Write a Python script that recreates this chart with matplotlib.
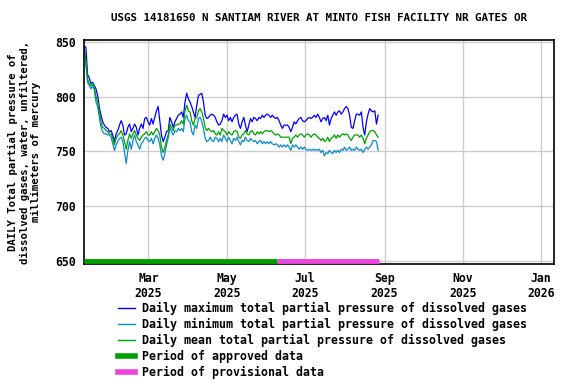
import pandas as pd
import numpy as np
import matplotlib
matplotlib.use("Agg")
import matplotlib.pyplot as plt
import matplotlib.dates as mdates
from matplotlib.lines import Line2D

# Dados (mmHg), aprox. um ponto a cada ~1,3 dias
inicio = "2025-01-10"
fim = "2025-08-27"

valor_max = [846, 845, 820, 817, 812, 813, 810, 807, 801, 790, 783, 777, 774, 772, 771, 768,
             769, 765, 759, 766, 769, 774, 778, 774, 765, 766, 772, 775, 768, 771, 775, 772,
             765, 771, 775, 771, 780, 781, 777, 774, 780, 775, 781, 787, 791, 778, 765, 759,
             763, 768, 769, 781, 777, 772, 777, 780, 783, 784, 786, 781, 795, 803, 798, 795,
             791, 786, 781, 792, 801, 802, 803, 795, 783, 780, 781, 783, 784, 783, 781, 777,
             774, 775, 778, 784, 781, 783, 778, 781, 777, 781, 783, 784, 775, 771, 777, 781,
             774, 768, 774, 780, 777, 781, 780, 778, 781, 780, 783, 781, 783, 784, 783, 781,
             783, 781, 780, 781, 778, 774, 771, 774, 774, 774, 772, 768, 772, 777, 775, 778,
             780, 781, 778, 777, 778, 780, 781, 780, 781, 783, 781, 784, 781, 777, 780, 781,
             778, 783, 774, 780, 783, 786, 783, 786, 787, 784, 786, 789, 791, 789, 783, 772,
             771, 778, 784, 784, 783, 786, 772, 765, 777, 784, 789, 787, 786, 787, 775, 783]

valor_min = [844, 829, 813, 810, 807, 810, 806, 795, 791, 781, 772, 768, 766, 766, 765, 765,
             763, 757, 751, 756, 759, 762, 763, 759, 749, 739, 751, 759, 752, 760, 765, 759,
             756, 752, 757, 759, 762, 763, 760, 759, 762, 757, 762, 765, 762, 756, 746, 742,
             748, 756, 762, 772, 768, 765, 769, 768, 771, 769, 771, 768, 780, 783, 778, 777,
             768, 765, 774, 771, 780, 781, 777, 771, 762, 759, 760, 763, 760, 759, 763, 762,
             759, 762, 759, 765, 762, 759, 763, 760, 757, 762, 760, 763, 759, 756, 760, 759,
             763, 760, 759, 762, 760, 759, 760, 757, 759, 760, 757, 759, 757, 759, 757, 759,
             757, 756, 757, 756, 754, 756, 754, 756, 754, 756, 754, 751, 756, 754, 756, 754,
             752, 754, 752, 754, 752, 751, 752, 751, 752, 751, 752, 751, 752, 749, 751, 746,
             749, 748, 751, 749, 748, 751, 749, 751, 749, 752, 751, 754, 751, 752, 754, 751,
             752, 751, 754, 752, 751, 752, 749, 752, 754, 752, 754, 756, 760, 760, 759, 751]

valor_media = [845, 832, 816, 812, 810, 812, 809, 800, 795, 786, 777, 772, 771, 769, 768, 766,
               766, 762, 756, 762, 765, 766, 769, 765, 759, 752, 760, 766, 762, 766, 769, 765,
               762, 760, 763, 765, 766, 768, 765, 765, 768, 765, 768, 771, 769, 765, 754, 749,
               754, 760, 765, 775, 772, 769, 774, 774, 775, 775, 778, 775, 787, 792, 787, 786,
               778, 774, 780, 781, 787, 789, 786, 780, 772, 769, 771, 769, 768, 769, 766, 765,
               768, 765, 771, 769, 768, 765, 768, 766, 765, 768, 769, 768, 763, 762, 765, 766,
               769, 766, 765, 768, 769, 766, 765, 768, 766, 768, 766, 768, 769, 769, 768, 769,
               768, 766, 765, 766, 765, 763, 763, 763, 763, 763, 763, 757, 762, 763, 765, 763,
               765, 766, 765, 763, 765, 766, 765, 763, 765, 766, 765, 763, 762, 760, 762, 759,
               760, 763, 759, 762, 763, 765, 762, 765, 763, 765, 766, 765, 766, 765, 762, 760,
               763, 765, 765, 765, 763, 765, 762, 757, 762, 765, 768, 769, 769, 768, 765, 763]

# Periodos de aprovacao dos dados
aprovado = ["2025-01-10", "2025-06-09"]
provisorio = ["2025-06-09", "2025-08-28"]

rotulos_legenda = [
    "Daily maximum total partial pressure of dissolved gases",
    "Daily minimum total partial pressure of dissolved gases",
    "Daily mean total partial pressure of dissolved gases",
    "Period of approved data",
    "Period of provisional data",
]

cor_max = "#0000ff"
cor_min = "#0a8ad0"
cor_media = "#00a000"
cor_aprovado = "#00a000"
cor_provisorio = "#ee44dd"

fonte = "DejaVu Sans Mono"
plt.rcParams["font.family"] = fonte
plt.rcParams["font.weight"] = "bold"

fig = plt.figure(figsize=(5.76, 3.84), dpi=100)
ax = fig.add_axes([84 / 576, 1 - 264 / 384, 470 / 576, 224 / 384])

# Uma linha por serie
for valores, cor in [(valor_max, cor_max), (valor_min, cor_min), (valor_media, cor_media)]:
    datas = pd.date_range(inicio, fim, periods=len(valores))
    ax.plot(datas, valores, color=cor, linewidth=0.9)

# Barras de periodo na base do eixo
ax.plot(pd.to_datetime(aprovado), [650, 650], color=cor_aprovado, linewidth=3.5,
        solid_capstyle="butt", clip_on=False, zorder=4)
ax.plot(pd.to_datetime(provisorio), [650, 650], color=cor_provisorio, linewidth=3.5,
        solid_capstyle="butt", clip_on=False, zorder=4)

ax.set_xlim(pd.Timestamp("2025-01-09 20:00"), pd.Timestamp("2026-01-11"))
ax.set_ylim(647.5, 851.5)

ax.set_yticks([650, 700, 750, 800, 850])
ax.xaxis.set_major_locator(mdates.MonthLocator(bymonth=[1, 3, 5, 7, 9, 11]))
ax.xaxis.set_major_formatter(mdates.DateFormatter("%b\n%Y"))

ax.tick_params(axis="both", length=0, labelsize=8.3, pad=6)
for rotulo in ax.get_xticklabels() + ax.get_yticklabels():
    rotulo.set_fontweight("bold")

ax.grid(True, color="#cccccc", linewidth=1)
ax.set_axisbelow(True)
for lado in ax.spines.values():
    lado.set_linewidth(1.2)

ax.set_title("USGS 14181650 N SANTIAM RIVER AT MINTO FISH FACILITY NR GATES OR",
             fontsize=7.8, fontweight="bold", pad=14)
ax.set_ylabel("DAILY Total partial pressure of\ndissolved gases, water, unfiltered,\nmillimeters of mercury",
              fontsize=7.7, fontweight="bold", linespacing=1.2, labelpad=10)

# Legenda abaixo do grafico
handles = [
    Line2D([], [], color=cor_max, linewidth=1),
    Line2D([], [], color=cor_min, linewidth=1),
    Line2D([], [], color=cor_media, linewidth=1),
    Line2D([], [], color=cor_aprovado, linewidth=4),
    Line2D([], [], color=cor_provisorio, linewidth=4),
]
fig.legend(handles, rotulos_legenda, loc="upper left", bbox_to_anchor=(118 / 576, 1 - 302 / 384),
           frameon=False, handlelength=1.45, handletextpad=0.6,
           labelspacing=0.24, borderpad=0, borderaxespad=0,
           prop={"family": fonte, "weight": "bold", "size": 8.4})

plt.savefig("out.png", dpi=100)
